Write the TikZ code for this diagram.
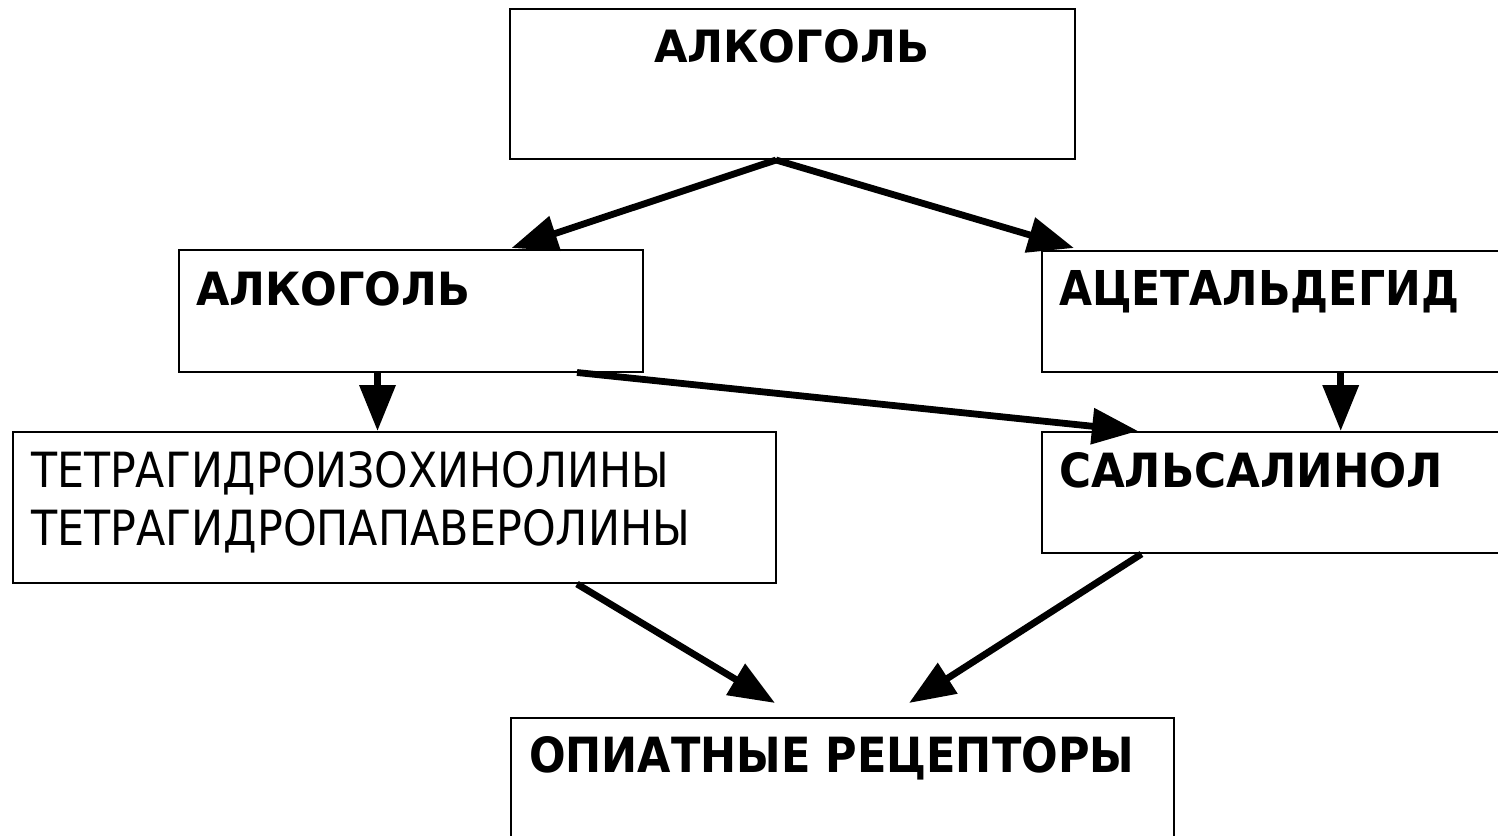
\documentclass[tikz,border=0pt]{standalone}
\usepackage{fontspec}
\setmainfont{DejaVu Sans}
\usetikzlibrary{arrows.meta,calc}
\tikzset{
  boxst/.style={draw=black, line width=2pt, rectangle, inner sep=0pt, fill=none},
  txt/.style={inner sep=0pt, outer sep=0pt, anchor=base west},
  arr/.style={line width=6.8pt, -{Triangle[length=46pt,width=35pt]}}
}
\newcommand{\fitb}[3]{\resizebox{#1pt}{#2pt}{\bfseries #3}}
\newcommand{\fitr}[3]{\resizebox{#1pt}{#2pt}{#3}}
\begin{document}
\begin{tikzpicture}[x=1pt,y=-1pt]
\clip (0,0) rectangle (1498,835);
\fill[white] (0,0) rectangle (1498,835);
% boxes
\node[boxst, minimum width=565pt, minimum height=150pt] (b1) at (792.5,84) {};
\node[boxst, minimum width=464pt, minimum height=121.5pt] (b2) at (411,310.75) {};
\node[boxst, minimum width=478pt, minimum height=121pt] (b3) at (1281,311.5) {};
\node[boxst, minimum width=762.5pt, minimum height=151pt] (b4) at (394.25,507.5) {};
\node[boxst, minimum width=478pt, minimum height=121pt] (b5) at (1281,492.5) {};
\node[boxst, minimum width=663pt, minimum height=132pt] (b6) at (842.5,784) {};
% texts
\node[txt] (t1) at (654,62) {\fitb{275}{33}{АЛКОГОЛЬ}};
\node[txt] (t2) at (196,305) {\fitb{274}{34}{АЛКОГОЛЬ}};
\node[txt] (t3) at (1059,305) {\fitb{400}{35}{АЦЕТАЛЬДЕГИД}};
\node[txt] (t4a) at (31,487) {\fitr{638}{36}{ТЕТРАГИДРОИЗОХИНОЛИНЫ}};
\node[txt] (t4b) at (31,545) {\fitr{659}{36}{ТЕТРАГИДРОПАПАВЕРОЛИНЫ}};
\node[txt] (t5) at (1059,487) {\fitb{384}{35}{САЛЬСАЛИНОЛ}};
\node[txt] (t6) at (529,772) {\fitb{605}{36}{ОПИАТНЫЕ РЕЦЕПТОРЫ}};
% arrows
\draw[arr] ([xshift=-16.5pt]b1.south) -- ([xshift=100.5pt,yshift=1pt]b2.north);
\draw[arr] ([xshift=-16.5pt]b1.south) -- ([xshift=-207pt,yshift=2pt]b3.north);
\draw[arr] ([xshift=-33.5pt]b2.south) -- ([xshift=-33.5pt]b2.south |- b4.north);
\draw[arr] ([xshift=59.7pt]b3.south) -- ([xshift=59.7pt]b3.south |- b5.north);
\draw[arr] ([xshift=166pt]b2.south) -- ([xshift=-143pt]b5.north);
\draw[arr] ([xshift=182.75pt]b4.south) -- ([xshift=-67.5pt,yshift=14pt]b6.north);
\draw[arr] ([xshift=-139.5pt]b5.south) -- ([xshift=66.5pt,yshift=14pt]b6.north);
\end{tikzpicture}
\end{document}
